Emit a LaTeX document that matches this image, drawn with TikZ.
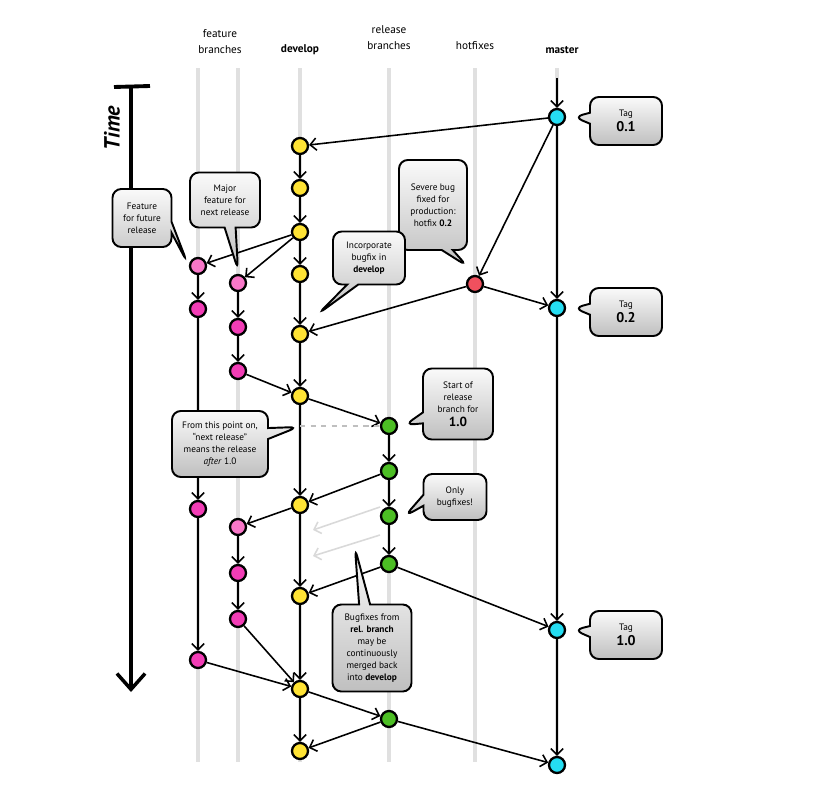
\documentclass[tikz,border=0pt]{standalone}
\usepackage{fontspec}
\setmainfont{PT Sans}
\usetikzlibrary{arrows.meta,shapes.callouts}

\definecolor{devyellow}{HTML}{FFE335}
\definecolor{featpink}{HTML}{F23DB6}
\definecolor{featlight}{HTML}{F877C8}
\definecolor{relgreen}{HTML}{4CBE24}
\definecolor{hotred}{HTML}{F0505E}
\definecolor{mastcyan}{HTML}{25DDF2}

\begin{document}
\begin{tikzpicture}[x=0.2mm,y=-0.2mm,
  commit/.style={circle,draw=black,line width=1.3pt,minimum size=3.2mm,inner sep=0pt},
  dev/.style={commit,fill=devyellow},
  feat/.style={commit,fill=featpink},
  featl/.style={commit,fill=featlight},
  rel/.style={commit,fill=relgreen},
  hot/.style={commit,fill=hotred},
  mast/.style={commit,fill=mastcyan},
  lane/.style={line width=2.2pt,black!12},
  flow/.style={line width=0.9pt,-{Straight Barb[length=3.5pt,width=7pt]}},
  ghost/.style={flow,black!15},
  bubble/.style={rectangle callout,draw=black,line width=1.1pt,rounded corners=5pt,
    top color=black!2,bottom color=black!25,align=center,inner sep=1pt,
    font=\fontsize{5.3}{6.9}\selectfont,callout pointer width=2.2mm},
  head/.style={align=center,font=\fontsize{6.4}{9}\selectfont}]

\useasboundingbox (0,0) rectangle (818,808);

% lanes
\foreach \x in {198,238,300,389,475,557}
  \draw[lane] (\x,68) -- (\x,762);

% headings
\node[head] (hfeat) at (220,42) {feature\\branches};
\node[head,font=\fontsize{6.4}{9}\selectfont\bfseries] (hdev) at (300,50) {develop};
\node[head] (hrel) at (389,38) {release\\branches};
\node[head] (hhot) at (475,46) {hotfixes};
\node[head,font=\fontsize{6.4}{9}\selectfont\bfseries] (hmast) at (562,50) {master};

% time axis
\coordinate (ttop) at (131,87);
\coordinate (tend) at (131,692);
\draw[line width=2.2pt] (114,87) -- (150,86);
\draw[line width=1.8pt,-{Straight Barb[length=9pt,width=16pt,line width=2pt]}] (ttop) -- (tend);
\node[rotate=90,font=\fontsize{12.5}{14}\selectfont\bfseries\itshape] (time) at (112,128) {Time};

% commits
\node[mast] (m1) at (557,117) {};
\node[mast] (m2) at (557,308) {};
\node[mast] (m3) at (557,630) {};
\node[mast] (m4) at (557,765) {};
\node[hot] (h1) at (475,284) {};
\node[dev] (d1) at (300,146) {};
\node[dev] (d2) at (300,188) {};
\node[dev] (d3) at (300,232) {};
\node[dev] (d4) at (300,274) {};
\node[dev] (d5) at (300,334) {};
\node[dev] (d6) at (300,396) {};
\node[dev] (d7) at (300,505) {};
\node[dev] (d8) at (300,596) {};
\node[dev] (d9) at (300,689) {};
\node[dev] (d10) at (300,751) {};
\node[featl] (fa1) at (198,266) {};
\node[feat] (fa2) at (198,309) {};
\node[feat] (fa3) at (198,509) {};
\node[feat] (fa4) at (198,660) {};
\node[featl] (fb1) at (238,283) {};
\node[feat] (fb2) at (238,327) {};
\node[feat] (fb3) at (238,371) {};
\node[featl] (fb4) at (238,527) {};
\node[feat] (fb5) at (238,573) {};
\node[feat] (fb6) at (238,619) {};
\node[rel] (r1) at (389,426) {};
\node[rel] (r2) at (389,471) {};
\node[rel] (r3) at (389,516) {};
\node[rel] (r4) at (389,564) {};
\node[rel] (r5) at (389,719) {};

% connectors
\coordinate (mstart) at (557,78);
\foreach \a/\b in {mstart/m1,m1/d1,m1/h1,m1/m2,h1/m2,h1/d5,m2/m3,m3/m4,
    d1/d2,d2/d3,d3/d4,d4/d5,d5/d6,d6/d7,d7/d8,d8/d9,d9/d10,
    d3/fa1,d3/fb1,fa1/fa2,fa2/fa3,fa3/fa4,fa4/d9,
    fb1/fb2,fb2/fb3,fb3/d6,d7/fb4,fb4/fb5,fb5/fb6,fb6/d9,
    d6/r1,r1/r2,r2/r3,r3/r4,r2/d7,r4/d8,r4/m3,d9/r5,r5/d10,r5/m4}
  \draw[flow] (\a) -- (\b);
\draw[black!25,dashed,line width=0.9pt] (d6 |- r1) -- (r1);
\coordinate (g1s) at (380,507);
\coordinate (g1e) at (313,530);
\coordinate (g2s) at (380,535);
\coordinate (g2e) at (313,556);
\draw[ghost] (g1s) -- (g1e);
\draw[ghost] (g2s) -- (g2e);

% callouts
\coordinate (tip01) at (574,117);
\coordinate (tip02) at (574,308);
\coordinate (tip10) at (574,630);
\coordinate (tipfut) at (187,262);
\coordinate (tipmaj) at (238,270);
\coordinate (tipsev) at (467,266);
\coordinate (tipinc) at (318,314);
\coordinate (tipsta) at (405,425);
\coordinate (tipfrom) at (298,427);
\coordinate (tiponly) at (405,516);
\coordinate (tipbug) at (355,548);

\node[bubble,minimum width=14.4mm,minimum height=9.6mm,callout absolute pointer={(tip01)}] (tag01) at (626,121)
  {Tag\\[1.5pt]{\fontsize{8}{8}\selectfont\bfseries 0.1}};
\node[bubble,minimum width=14.4mm,minimum height=9.6mm,callout absolute pointer={(tip02)}] (tag02) at (626,312)
  {Tag\\[1.5pt]{\fontsize{8}{8}\selectfont\bfseries 0.2}};
\node[bubble,minimum width=14.4mm,minimum height=9.6mm,callout absolute pointer={(tip10)}] (tag10) at (626,635)
  {Tag\\[1.5pt]{\fontsize{8}{8}\selectfont\bfseries 1.0}};
\node[bubble,minimum width=11.8mm,minimum height=11.6mm,callout absolute pointer={(tipfut)}] (cfut) at (142,218)
  {Feature\\for future\\release};
\node[bubble,minimum width=14mm,minimum height=11mm,callout absolute pointer={(tipmaj)}] (cmaj) at (225,200)
  {Major\\feature for\\next release};
\node[bubble,minimum width=13.6mm,minimum height=18mm,callout absolute pointer={(tipsev)}] (csev) at (433,205)
  {Severe bug\\fixed for\\production:\\hotfix \textbf{0.2}};
\node[bubble,minimum width=14.4mm,minimum height=10.6mm,callout absolute pointer={(tipinc)}] (cinc) at (369,258)
  {Incorporate\\bugfix in\\\textbf{develop}};
\node[bubble,minimum width=14mm,minimum height=14.2mm,callout absolute pointer={(tipsta)}] (csta) at (458,404)
  {Start of\\release\\branch for\\[1pt]{\fontsize{7.5}{8}\selectfont\bfseries 1.0}};
\node[bubble,minimum width=19.2mm,minimum height=13.2mm,callout absolute pointer={(tipfrom)}] (cfrom) at (220,444)
  {From this point on,\\“next release”\\means the release\\\textit{after} 1.0};
\node[bubble,minimum width=12.6mm,minimum height=9.2mm,callout absolute pointer={(tiponly)}] (conly) at (455,497)
  {Only\\bugfixes!};
\node[bubble,minimum width=15.8mm,minimum height=17.4mm,callout absolute pointer={(tipbug)}] (cbug) at (372,648)
  {Bugfixes from\\\textbf{rel. branch}\\may be\\continuously\\merged back\\into \textbf{develop}};
\end{tikzpicture}
\end{document}
